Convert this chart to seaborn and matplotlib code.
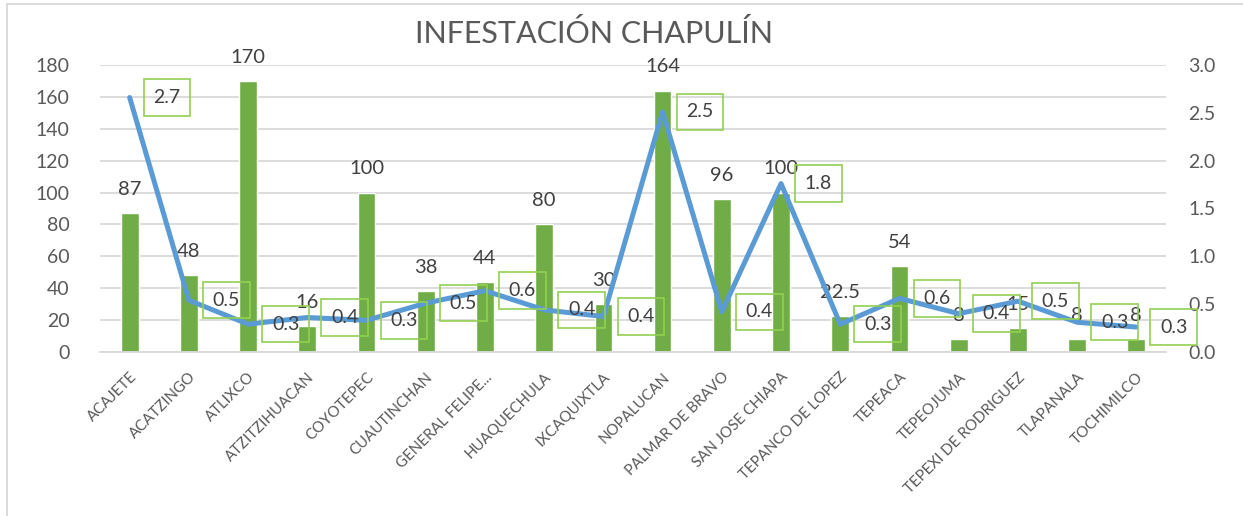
import numpy as np
import pandas as pd
import seaborn as sns
from matplotlib import pyplot as plt
import matplotlib as mpl

municipios = ['ACAJETE', 'ACATZINGO', 'ATLIXCO', 'ATZITZIHUACAN', 'COYOTEPEC',
              'CUAUTINCHAN', 'GENERAL FELIPE...', 'HUAQUECHULA', 'IXCAQUIXTLA',
              'NOPALUCAN', 'PALMAR DE BRAVO', 'SAN JOSE CHIAPA', 'TEPANCO DE LOPEZ',
              'TEPEACA', 'TEPEOJUMA', 'TEPEXI DE RODRIGUEZ', 'TLAPANALA', 'TOCHIMILCO']
superficie = [87, 48, 170, 16, 100, 38, 44, 80, 30, 164, 96, 100, 22.5, 54, 8, 15, 8, 8]
infestacion = [2.66, 0.54, 0.29, 0.36, 0.33, 0.51, 0.64, 0.44, 0.37, 2.51, 0.42,
               1.76, 0.29, 0.56, 0.40, 0.53, 0.31, 0.26]

df = pd.DataFrame({'Municipio': municipios, 'Superficie': superficie,
                   'Infestacion': infestacion})

sns.set_style('white')
mpl.rcParams['font.family'] = ['Lato', 'DejaVu Sans']
gris = '#595959'

fig = plt.figure(figsize=(12.43, 5.16), dpi=100)
ax = fig.add_axes([0.0805, 0.318, 0.8575, 0.556])

sns.barplot(data=df, x='Municipio', y='Superficie', color='#70AD47',
            width=0.3, saturation=1, ax=ax, zorder=2)
ax.bar_label(ax.containers[0], labels=[f'{v:g}' for v in superficie],
             padding=11, fontsize=14.5, color='#404040')

ax.set_ylim(0, 180)
ax.set_yticks(range(0, 181, 20))
ax.set_xlim(-0.5, len(municipios) - 0.5)
ax.grid(axis='y', color='#d9d9d9', linewidth=1.3, zorder=0)
ax.set_axisbelow(True)
for s in ['top', 'right', 'left']:
    ax.spines[s].set_visible(False)
ax.spines['bottom'].set_color('#d9d9d9')
ax.spines['bottom'].set_linewidth(1.3)
ax.set_xlabel('')
ax.set_ylabel('')
ax.tick_params(axis='y', length=0, labelsize=14, labelcolor=gris, pad=22)
ax.set_xticks(np.arange(len(municipios)))
ax.set_xticklabels(municipios, rotation=45, ha='right', rotation_mode='anchor',
                   fontsize=10.8, color=gris)
ax.tick_params(axis='x', length=0, pad=13)
# marcas entre categorias
ax.set_xticks(np.arange(-0.5, len(municipios), 1), minor=True)
ax.tick_params(axis='x', which='minor', length=5, color='#d9d9d9', width=1.3)

ax2 = ax.twinx()
sns.lineplot(data=df, x='Municipio', y='Infestacion', color='#5B9BD5',
             linewidth=3.6, sort=False, ax=ax2, zorder=3)
ax2.set_ylim(0, 3.0)
ax2.set_yticks(np.arange(0, 3.01, 0.5))
ax2.set_yticklabels([f'{v:.1f}' for v in np.arange(0, 3.01, 0.5)])
ax2.tick_params(axis='y', length=0, labelsize=14, labelcolor=gris, pad=16)
ax2.set_ylabel('')
for s in ['top', 'right', 'left', 'bottom']:
    ax2.spines[s].set_visible(False)

for i, v in enumerate(infestacion):
    ax2.annotate(f'{v:.1f}', (i, v), xytext=(27, 0), textcoords='offset points',
                 ha='center', va='center', fontsize=14, color='#404040',
                 bbox=dict(boxstyle='square,pad=0.5', fc='none',
                           ec='#92D050', lw=1.2))

fig.text(0.478, 0.935, 'INFESTACIÓN CHAPULÍN', ha='center', va='center',
         fontsize=22, color=gris)

# borde del area del grafico
fig.add_artist(plt.Line2D([0.0056, 1.0], [0.992, 0.992], color='#d9d9d9',
                          lw=1.3, transform=fig.transFigure))
fig.add_artist(plt.Line2D([0.0056, 0.0056], [0.0, 0.992], color='#d9d9d9',
                          lw=1.3, transform=fig.transFigure))

plt.savefig('out.png', dpi=100)
